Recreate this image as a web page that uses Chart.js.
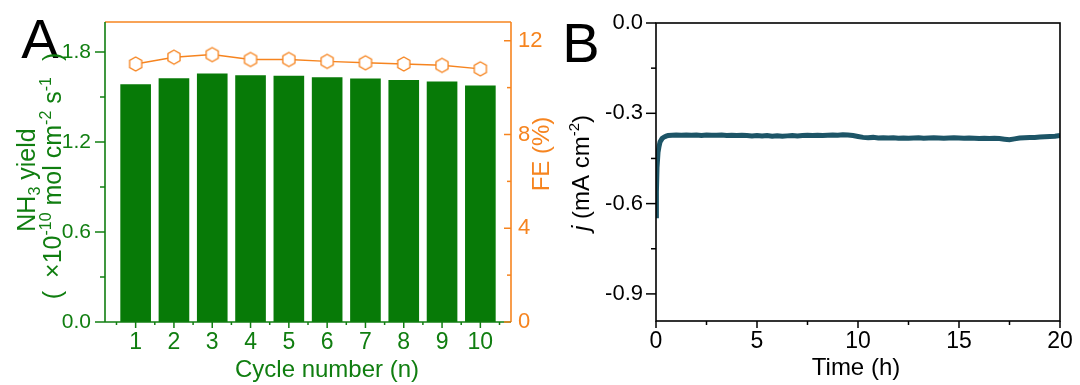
<!DOCTYPE html>
<html lang="en">
<head>
<meta charset="UTF-8" />
<title>NH3 yield cycling and stability</title>
<script src="https://cdn.jsdelivr.net/npm/chart.js"></script>
<style>
  body { margin: 0; background: #fff; }
  .wrap { position: relative; width: 1080px; height: 385px; overflow: hidden; background: #fff; }
  #yieldChart { position: absolute; left: 0; top: 0; }
  #currentChart { position: absolute; left: 560px; top: 0; }
</style>
</head>
<body>
<div class="wrap">
  <canvas id="yieldChart" width="560" height="385"></canvas>
  <canvas id="currentChart" width="520" height="385"></canvas>
</div>
<script>
// ---- panel A: cycling test ----
const cycles = [1, 2, 3, 4, 5, 6, 7, 8, 9, 10];
const nh3Yield = [1.585, 1.625, 1.657, 1.645, 1.641, 1.632, 1.623, 1.614, 1.603, 1.577];
const faradaicEff = [11.01, 11.30, 11.41, 11.20, 11.20, 11.12, 11.06, 11.01, 10.95, 10.80];
const yieldTicks = [0, 0.6, 1.2, 1.8];
const yieldMinor = [0.3, 0.9, 1.5];
const feTicks = [0, 4, 8, 12];
const feMinor = [2, 6, 10];
const cycleMinor = [0.5, 1.5, 2.5, 3.5, 4.5, 5.5, 6.5, 7.5, 8.5, 9.5, 10.5];

// ---- panel B: chronoamperometry ----
const timeH = [0, 0.02, 0.05, 0.1, 0.15, 0.2, 0.3, 0.4, 0.5, 0.6, 0.8, 1.0,
  1.25, 1.5, 1.75, 2.0, 2.25, 2.5, 2.75, 3.0, 3.25, 3.5, 3.75, 4.0, 4.25, 4.5, 4.75,
  5.0, 5.25, 5.5, 5.75, 6.0, 6.25, 6.5, 6.75, 7.0, 7.25, 7.5, 7.75, 8.0, 8.25, 8.5, 8.75,
  9.0, 9.25, 9.5, 9.75, 10.0, 10.25, 10.5, 10.75, 11.0, 11.25, 11.5, 11.75, 12.0, 12.25,
  12.5, 12.75, 13.0, 13.25, 13.5, 13.75, 14.0, 14.25, 14.5, 14.75, 15.0, 15.25, 15.5,
  15.75, 16.0, 16.25, 16.5, 16.75, 17.0, 17.25, 17.5, 17.75, 18.0, 18.25, 18.5, 18.75,
  19.0, 19.25, 19.5, 19.75, 20.0];
const currentJ = [-0.64, -0.56, -0.48, -0.43, -0.41, -0.395, -0.384, -0.379, -0.376, -0.374, -0.373, -0.372,
  -0.373, -0.372, -0.373, -0.372, -0.374, -0.372, -0.373, -0.373, -0.372, -0.374, -0.373, -0.374, -0.373, -0.374, -0.375,
  -0.374, -0.375, -0.374, -0.376, -0.375, -0.376, -0.375, -0.374, -0.375, -0.374, -0.373, -0.374, -0.373, -0.374, -0.373, -0.372,
  -0.373, -0.371, -0.372, -0.374, -0.377, -0.380, -0.381, -0.380, -0.382, -0.381, -0.382, -0.381, -0.383, -0.382,
  -0.383, -0.382, -0.381, -0.383, -0.382, -0.381, -0.382, -0.383, -0.382, -0.381, -0.382, -0.383, -0.382,
  -0.383, -0.384, -0.383, -0.384, -0.383, -0.384, -0.386, -0.388, -0.385, -0.382, -0.381, -0.380, -0.380,
  -0.379, -0.378, -0.377, -0.376, -0.374];
const timeTicks = [0, 5, 10, 15, 20];
const timeMinor = [2.5, 7.5, 12.5, 17.5];
const currentTicks = [0, -0.3, -0.6, -0.9];
const currentMinor = [-0.15, -0.45, -0.75];

const GREEN = '#107e10';
const BAR_GREEN = '#077a07';
const ORANGE = '#f6841f';
const TEAL = '#1d5567';
const FONT = "'Liberation Sans', Arial, sans-serif";

Chart.defaults.font.family = FONT;

// hexagon marker for the FE series
function hexMarker(r, color) {
  const c = document.createElement('canvas');
  const s = Math.ceil(r * 2 + 4);
  c.width = s; c.height = s;
  const g = c.getContext('2d');
  g.beginPath();
  for (let k = 0; k < 6; k++) {
    const a = -Math.PI / 2 + k * Math.PI / 3;
    const px = s / 2 + r * Math.cos(a), py = s / 2 + r * Math.sin(a);
    k ? g.lineTo(px, py) : g.moveTo(px, py);
  }
  g.closePath();
  g.fillStyle = '#fff';
  g.fill();
  g.lineWidth = 1.3;
  g.strokeStyle = color;
  g.stroke();
  return c;
}

// text with sub/superscripts; rot = -Math.PI/2 for vertical titles
function drawRich(ctx, runs, x, y, size, color, rot) {
  ctx.save();
  ctx.translate(x, y);
  if (rot) ctx.rotate(rot);
  ctx.fillStyle = color;
  ctx.textBaseline = 'alphabetic';
  ctx.textAlign = 'left';
  const fontOf = r => (r.italic ? 'italic ' : '') + Math.round((r.sup || r.sub) ? size * 0.62 : size) + 'px ' + FONT;
  let total = 0;
  runs.forEach(r => {
    ctx.font = fontOf(r);
    r.w = r.gap != null ? r.gap : ctx.measureText(r.t).width;
    total += r.w;
  });
  let cx = -total / 2;
  runs.forEach(r => {
    if (r.t) {
      ctx.font = fontOf(r);
      const dy = r.sup ? -size * 0.42 : r.sub ? size * 0.18 : 0;
      ctx.fillText(r.t, cx, dy);
    }
    cx += r.w;
  });
  ctx.restore();
}

function hLine(ctx, x1, y1, x2, y2, color, w) {
  ctx.beginPath();
  ctx.moveTo(x1, y1);
  ctx.lineTo(x2, y2);
  ctx.strokeStyle = color;
  ctx.lineWidth = w;
  ctx.stroke();
}

// tick marks along an axis; dir: +1/-1 in pixels away from the chart area edge
function drawTicks(ctx, scale, values, len, color, vertical, edge, dir) {
  values.forEach(v => {
    const p = scale.getPixelForValue(v);
    if (vertical) hLine(ctx, edge, p, edge + dir * len, p, color, 1.5);
    else hLine(ctx, p, edge, p, edge + dir * len, color, 1.5);
  });
}

const fixedTicks = list => scale => { scale.ticks = list.map(value => ({ value })); };
// fixed axis width, and no extra label padding pushing the plot area around
const fixWidth = w => s => { s.width = w; s.paddingTop = 0; s.paddingBottom = 0; };

const yieldDecor = {
  id: 'yieldDecor',
  afterDraw(chart) {
    const { ctx, chartArea: a, scales } = chart;
    ctx.save();
    ctx.lineCap = 'butt';
    hLine(ctx, a.left, a.top, a.right, a.top, ORANGE, 1.6);
    hLine(ctx, a.right, a.top, a.right, a.bottom, ORANGE, 1.6);
    hLine(ctx, a.left, a.top, a.left, a.bottom, GREEN, 1.6);
    hLine(ctx, a.left, a.bottom, a.right, a.bottom, GREEN, 1.6);
    drawTicks(ctx, scales.y, yieldTicks, 10, GREEN, true, a.left, -1);
    drawTicks(ctx, scales.y, yieldMinor, 5, GREEN, true, a.left, -1);
    drawTicks(ctx, scales.yR, feTicks, 7, ORANGE, true, a.right, -1);
    drawTicks(ctx, scales.yR, feMinor, 4, ORANGE, true, a.right, -1);
    drawTicks(ctx, scales.x, cycles, 6, GREEN, false, a.bottom, 1);
    drawTicks(ctx, scales.x, cycleMinor, 3, GREEN, false, a.bottom, 1);

    drawRich(ctx, [{ t: 'A' }], 40, 58, 56, '#000', 0);
    drawRich(ctx, [{ t: 'Cycle number (n)' }], 327, 377, 24, GREEN, 0);
    drawRich(ctx, [{ t: 'NH' }, { t: '3', sub: true }, { t: ' yield' }], 35, 180, 25, GREEN, -Math.PI / 2);
    drawRich(ctx, [{ t: '(' }, { gap: 13 }, { t: '×10' }, { t: '-10', sup: true }, { t: ' mol cm' },
      { t: '-2', sup: true }, { t: ' s' }, { t: '-1', sup: true }, { gap: 16 }, { t: ')' }],
      61, 176, 25, GREEN, -Math.PI / 2);
    drawRich(ctx, [{ t: 'FE (%)' }], 549, 154, 24, ORANGE, -Math.PI / 2);
    ctx.restore();
  }
};

new Chart(document.getElementById('yieldChart'), {
  type: 'bar',
  data: {
    datasets: [{
      type: 'line',
      data: cycles.map((c, i) => ({ x: c, y: faradaicEff[i] })),
      yAxisID: 'yR',
      borderColor: ORANGE,
      borderWidth: 1.5,
      pointStyle: hexMarker(7, ORANGE),
      pointRadius: 7,
      order: 0
    }, {
      type: 'bar',
      data: cycles.map((c, i) => ({ x: c, y: nh3Yield[i] })),
      yAxisID: 'y',
      backgroundColor: BAR_GREEN,
      borderWidth: 0,
      barPercentage: 0.8,
      categoryPercentage: 1,
      order: 1
    }]
  },
  options: {
    responsive: false,
    animation: false,
    events: [],
    layout: { padding: { top: 22, right: 0, left: 0, bottom: 0 } },
    plugins: { legend: { display: false }, tooltip: { enabled: false } },
    scales: {
      x: {
        type: 'linear', min: 0.2, max: 10.8, offset: false,
        grid: { display: false, drawTicks: false }, border: { display: false },
        afterBuildTicks: fixedTicks(cycles),
        afterFit: s => { s.height = 63; },
        ticks: { color: GREEN, font: { size: 23 }, padding: 7, maxRotation: 0, callback: v => String(v) }
      },
      y: {
        position: 'left', min: 0, max: 2.0,
        grid: { display: false, drawTicks: false }, border: { display: false },
        afterBuildTicks: fixedTicks(yieldTicks),
        afterFit: fixWidth(105),
        ticks: { color: GREEN, font: { size: 21 }, padding: 14, callback: v => v.toFixed(1) }
      },
      yR: {
        position: 'right', min: 0, max: 12.8,
        grid: { display: false, drawTicks: false }, border: { display: false },
        afterBuildTicks: fixedTicks(feTicks),
        afterFit: fixWidth(49),
        ticks: { color: ORANGE, font: { size: 22 }, padding: 7, callback: v => String(v) }
      }
    }
  },
  plugins: [yieldDecor]
});

const currentDecor = {
  id: 'currentDecor',
  afterDraw(chart) {
    const { ctx, chartArea: a, scales } = chart;
    ctx.save();
    ctx.strokeStyle = '#000';
    ctx.lineWidth = 1.6;
    ctx.strokeRect(a.left, a.top, a.right - a.left, a.bottom - a.top);
    drawTicks(ctx, scales.y, currentTicks, 10, '#000', true, a.left, -1);
    drawTicks(ctx, scales.y, currentMinor, 5, '#000', true, a.left, -1);
    drawTicks(ctx, scales.x, timeTicks, 7, '#000', false, a.bottom, 1);
    drawTicks(ctx, scales.x, timeMinor, 4, '#000', false, a.bottom, 1);

    drawRich(ctx, [{ t: 'B' }], 21, 62, 56, '#000', 0);
    drawRich(ctx, [{ t: 'Time (h)' }], 296, 375, 24, '#000', 0);
    drawRich(ctx, [{ t: 'j', italic: true }, { t: ' (mA cm' }, { t: '-2', sup: true }, { t: ')' }],
      29, 173, 24, '#000', -Math.PI / 2);
    ctx.restore();
  }
};

new Chart(document.getElementById('currentChart'), {
  type: 'line',
  data: {
    datasets: [{
      data: timeH.map((t, i) => ({ x: t, y: currentJ[i] })),
      borderColor: TEAL,
      borderWidth: 5,
      pointRadius: 0,
      tension: 0
    }]
  },
  options: {
    responsive: false,
    animation: false,
    events: [],
    layout: { padding: { top: 23, right: 20, left: 0, bottom: 0 } },
    plugins: { legend: { display: false }, tooltip: { enabled: false } },
    scales: {
      x: {
        type: 'linear', min: 0, max: 20,
        grid: { display: false, drawTicks: false }, border: { display: false },
        afterBuildTicks: fixedTicks(timeTicks),
        afterFit: s => { s.height = 64; },
        ticks: { color: '#000', font: { size: 23 }, padding: 7, maxRotation: 0, callback: v => String(v) }
      },
      y: {
        min: -0.99, max: 0,
        grid: { display: false, drawTicks: false }, border: { display: false },
        afterBuildTicks: fixedTicks(currentTicks),
        afterFit: fixWidth(96),
        ticks: { color: '#000', font: { size: 22 }, padding: 13, callback: v => v.toFixed(1) }
      }
    }
  },
  plugins: [currentDecor]
});
</script>
</body>
</html>
